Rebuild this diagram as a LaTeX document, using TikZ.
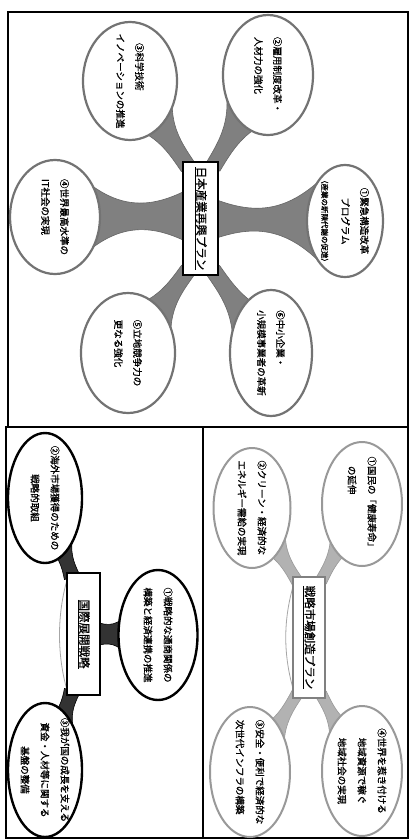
\documentclass[tikz,border=0pt]{standalone}
\usepackage{fontspec}
\setmainfont{Noto Sans CJK JP}[FakeBold=1.2]
\usetikzlibrary{calc,shapes.geometric}
% funnel: #1 style, #2 start (inside box), #3 ellipse centre, #4 depth from centre, #5 w0, #6 wmid, #7 w1
\newcommand\myfunnel[7]{%
  \coordinate (fa) at (#2);
  \coordinate (fb) at ($(#3)!#4!(fa)$);
  \coordinate (fm1) at ($(fa)!0.35!(fb)$);
  \coordinate (fm2) at ($(fa)!0.65!(fb)$);
  \filldraw[#1] ($(fa)!#5!90:(fb)$) .. controls ($(fm1)!#6!90:(fb)$) and ($(fm2)!#6!90:(fb)$) .. ($(fb)!#7!-90:(fa)$)
    -- ($(fb)!#7!90:(fa)$) .. controls ($(fm2)!#6!-90:(fb)$) and ($(fm1)!#6!-90:(fb)$) .. ($(fa)!#5!-90:(fb)$) -- cycle;}
\begin{document}
\begin{tikzpicture}[x=1pt,y=-1pt,
  ell/.style={ellipse,fill=white,inner sep=0pt},
  elltop/.style={ell,draw=black!55,line width=2.2pt},
  ellmid/.style={ell,draw=black!40,line width=2pt},
  elldark/.style={ell,draw=black,line width=2.4pt},
  ftop/.style={fill=black!50,draw=black!60,line width=0.6pt},
  fmid/.style={fill=black!30,draw=black!40,line width=0.6pt},
  fdark/.style={fill=black!80,draw=black,line width=0.6pt},
  txt/.style={rotate=-90,align=center,inner sep=0pt,font=\fontsize{9.5}{19}\selectfont},
  txtl/.style={txt,align=left},
  txtb/.style={txt,font=\fontsize{9.5}{20}\selectfont},
  ttl/.style={rotate=-90,inner sep=0pt,font=\fontsize{11.5}{14}\selectfont},
  boxtop/.style={draw=black,line width=1.5pt,fill=white,inner sep=0pt},
  boxmid/.style={draw=black!50,line width=1.5pt,fill=white,inner sep=0pt},
  boxdark/.style={draw=black,line width=1.8pt,fill=white,inner sep=0pt},
  panelframe/.style={draw=black,line width=1.2pt},
  bracket/.style={draw=black!35,line width=0.8pt}]
\useasboundingbox (0,0) rectangle (415,839);
\fill[white] (0,0) rectangle (415,839);
% panels
\draw[panelframe] (8,12) rectangle (408,427);
\draw[panelframe] (6,427) rectangle (203,838);
\draw[panelframe] (203,427) rectangle (408,838);

% ---------- top panel ----------
\coordinate (c1) at (345,221);
\coordinate (c2) at (268,75);
\coordinate (c3) at (130,81);
\coordinate (c4) at (55,217);
\coordinate (c5) at (128,353);
\coordinate (c6) at (271,353);
\coordinate (cb) at (200.5,218.5);
\myfunnel{ftop}{214,219}{c1}{22pt}{20pt}{6pt}{44pt}
\myfunnel{ftop}{187,216}{c4}{24pt}{26pt}{7pt}{42pt}
\myfunnel{ftop}{213,167}{c2}{36pt}{8pt}{8pt}{27pt}
\myfunnel{ftop}{188,167}{c3}{36pt}{8pt}{8pt}{27pt}
\myfunnel{ftop}{188,270}{c5}{36pt}{8pt}{8pt}{27pt}
\myfunnel{ftop}{213,270}{c6}{34pt}{8pt}{8pt}{23pt}
\node[elltop,minimum width=76,minimum height=112] (e1) at (c1) {};
\node[elltop,minimum width=90,minimum height=120] (e2) at (c2) {};
\node[elltop,minimum width=94,minimum height=118] (e3) at (c3) {};
\node[elltop,minimum width=90,minimum height=114] (e4) at (c4) {};
\node[elltop,minimum width=94,minimum height=120] (e5) at (c5) {};
\node[elltop,minimum width=82,minimum height=126] (e6) at (c6) {};
\node[boxtop,minimum width=35,minimum height=113] (bx) at (cb) {};
\node[ttl] (tbx) at (bx) {\underline{日本産業再興プラン}};
\node[txt] (t1) at (e1) {①緊急構造改革\\プログラム\\[1pt]{\fontsize{7.5}{9}\selectfont（産業の新陳代謝の促進）}};
\node[txtl] (t2) at (e2) {②雇用制度改革・\\人材力の強化};
\node[txtl] (t3) at (e3) {\hspace*{1em}③科学技術\\イノベーションの推進};
\node[txtl] (t4) at (e4) {④世界最高水準の\\IT社会の実現};
\node[txtl] (t5) at (e5) {⑤立地競争力の\\更なる強化};
\node[txtl] (t6) at (e6) {⑥中小企業・\\小規模事業者の革新};

% ---------- bottom right panel ----------
\coordinate (s1c) at (362,504);
\coordinate (s2c) at (252,508);
\coordinate (s3c) at (250,772);
\coordinate (s4c) at (362,771);
\coordinate (sbc) at (309,637.5);
\draw[bracket] (294,583) .. controls (283,620) and (283,655) .. (294,692);
\myfunnel{fmid}{321,581}{s1c}{36pt}{6pt}{5pt}{17pt}
\myfunnel{fmid}{297,581}{s2c}{36pt}{6pt}{5pt}{17pt}
\myfunnel{fmid}{297,694}{s3c}{38pt}{6pt}{5pt}{17pt}
\myfunnel{fmid}{321,694}{s4c}{38pt}{6pt}{5pt}{17pt}
\node[ellmid,minimum width=80,minimum height=124] (s1) at (s1c) {};
\node[ellmid,minimum width=77,minimum height=120] (s2) at (s2c) {};
\node[ellmid,minimum width=80,minimum height=130] (s3) at (s3c) {};
\node[ellmid,minimum width=80,minimum height=130] (s4) at (s4c) {};
\node[boxmid,minimum width=32,minimum height=121] (bs) at (sbc) {};
\node[ttl] (tbs) at (bs) {\underline{戦略市場創造プラン}};
\node[txtb,align=left] (u1) at (s1) {①国民の「健康寿命」\\\hspace*{1em}の延伸};
\node[txtb,align=left] (u2) at (s2) {②クリーン・経済的な\\エネルギー需給の実現};
\node[txtb,align=left] (u3) at (s3) {③安全・便利で経済的な\\次世代インフラの構築};
\node[txtb] (u4) at (s4) {④世界を惹き付ける\\地域資源で稼ぐ\\地域社会の実現};

% ---------- bottom left panel ----------
\coordinate (i1c) at (158,635);
\coordinate (i2c) at (45,498);
\coordinate (i3c) at (45,770);
\coordinate (ibc) at (83.5,634);
\draw[bracket] (67,580) .. controls (57,615) and (57,655) .. (67,690);
\myfunnel{fdark}{96,634}{i1c}{28pt}{12pt}{8pt}{24pt}
\myfunnel{fdark}{72,577}{i2c}{44pt}{8pt}{6pt}{15pt}
\myfunnel{fdark}{72,691}{i3c}{46pt}{8pt}{6pt}{15pt}
\node[elldark,minimum width=79,minimum height=130] (i1) at (i1c) {};
\node[elldark,minimum width=74,minimum height=130] (i2) at (i2c) {};
\node[elldark,minimum width=74,minimum height=134] (i3) at (i3c) {};
\node[boxdark,minimum width=33,minimum height=122] (bi) at (ibc) {};
\node[ttl] (tbi) at (bi) {\underline{国際展開戦略}};
\node[txtb] (v1) at (i1) {①戦略的な通商関係の\\構築と経済連携の推進};
\node[txtb] (v2) at (i2) {②海外市場獲得のための\\戦略的取組};
\node[txtb] (v3) at (i3) {③我が国の成長を支える\\資金・人材等に関する\\基盤の整備};
\end{tikzpicture}
\end{document}
